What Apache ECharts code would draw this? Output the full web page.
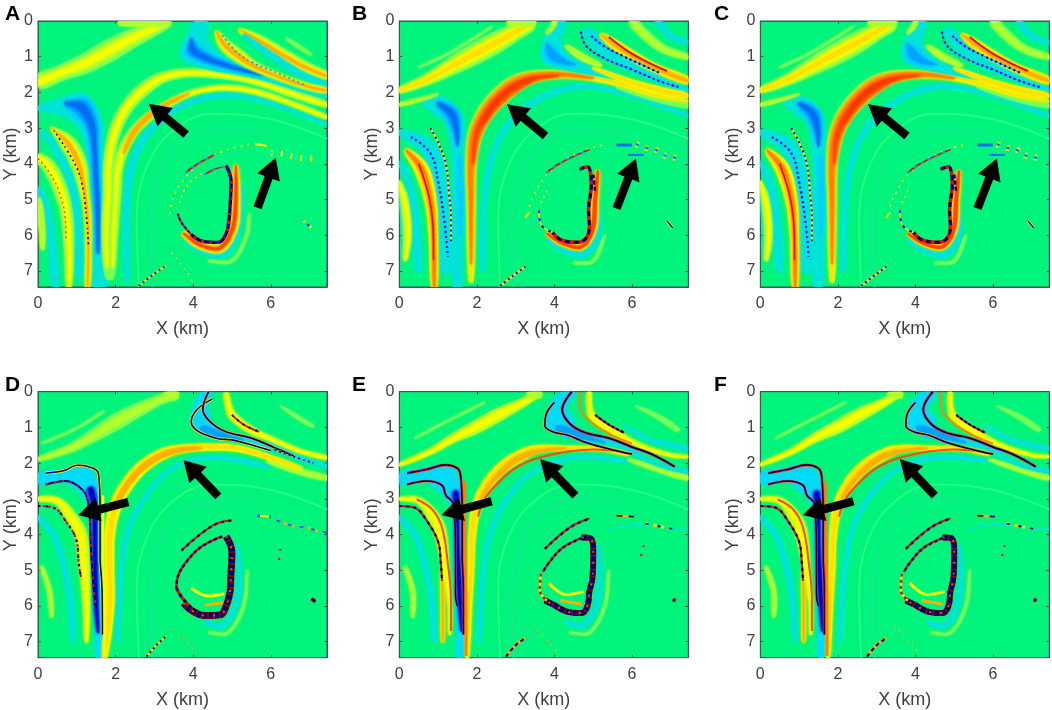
<!DOCTYPE html>
<html>
<head>
<meta charset="utf-8">
<style>html,body{margin:0;padding:0;background:#fff}#main{width:1052px;height:710px}</style>
<script src="https://cdn.jsdelivr.net/npm/echarts@6/dist/echarts.min.js"></script>
</head>
<body>
<div id="main"></div>
<script>
// tick labels
var xTicks = [0, 2, 4, 6];
var yTicks = [0, 1, 2, 3, 4, 5, 6, 7];
var letters = ['A', 'B', 'C', 'D', 'E', 'F'];

// ribbons are [x km, y km, width km], strokes are [x km, y km]
// ---- panel A
var aTop = [[0,1.72,.38],[.6,1.45,.42],[1.2,1.2,.52],[1.8,.85,.58],[2.4,.5,.5],[2.9,.25,.4],[3.3,.02,.3]];
var aTopEdge = [[2.1,.06,.14],[2.8,.06,.16],[3.4,.06,.16]];
var aBlueHalo = [[4.25,0,.3],[4.1,.4,.5],[4.05,.8,.85],[4.5,1.1,.55],[5,1.3,.35],[5.8,1.55,.2],[6.5,1.8,.15],[7.45,2.1,.1]];
var aBlueCore = [[3.95,.5,.08],[3.98,.8,.45],[4.3,1.02,.36],[4.8,1.22,.24],[5.3,1.38,.16],[5.8,1.52,.05]];
var aRightOne = [[4.6,.3,.08],[4.8,.65,.32],[5.2,1,.36],[5.6,1.28,.25],[6.3,1.6,.2],[7,1.85,.18],[7.45,1.95,.14]];
var aRightTwo = [[5.2,.25,.1],[5.7,.55,.3],[6.3,.95,.35],[6.9,1.3,.3],[7.45,1.55,.2]];
var aRightCyan = [[5.3,.4,.08],[6,.95,.16],[6.8,1.5,.16],[7.45,1.8,.12]];
var aRightDots = [[4.75,.4],[5.1,.85],[5.5,1.15],[6.1,1.42],[6.9,1.8]];
var aRightFaint = [[6.4,.5,.05],[6.7,.7,.1],[7.05,.95,.05]];
var aArchUp = [[1.78,6.9,.1],[1.75,6,.18],[1.8,5,.22],[1.82,4,.26],[1.98,3.1,.3],[2.3,2.4,.33],[2.8,1.85,.35],[3.3,1.55,.28],[4,1.45,.22],[5,1.55,.2],[5.8,1.75,.2],[6.6,2.05,.2],[7.45,2.35,.14]];
var aArchLow = [[1.92,6.9,.08],[1.95,6,.16],[2,5,.2],[2.08,4,.26],[2.4,3.2,.26],[2.9,2.65,.24],[3.4,2.3,.2],[4,2.0,.16],[4.8,1.87,.16],[5.6,1.98,.16],[6.5,2.3,.14],[7.45,2.7,.1]];
var aArchJoin = [[1.85,7.2,.2],[1.85,6,.4],[1.9,5,.45],[1.95,4.4,.4],[2,3.9,.1]];
var aArchCore = [[2.2,3.7,.05],[2.45,3.15,.12],[2.9,2.62,.13],[3.4,2.28,.1],[3.9,2.03,.04]];
var aArchHalo = [[2.3,7.3,.1],[2.28,5.5,.15],[2.38,4.2,.18],[2.72,3.3,.18],[3.3,2.65,.15],[4,2.25,.14],[5,2.08,.12],[6,2.3,.1],[7.45,2.9,.06]];
var aLeftHalo = [[0,2.45,.1],[.5,2.4,.4],[1,2.4,.8],[1.35,2.9,.62],[1.45,3.5,.45],[1.5,4.5,.5],[1.55,5.5,.5],[1.55,6.5,.5],[1.55,7.45,.4]];
var aLeftCore = [[.7,2.3,.12],[1.1,2.4,.62],[1.38,2.9,.42],[1.45,3.5,.26],[1.5,4.5,.22],[1.55,5.5,.22],[1.55,6.5,.08]];
var aStreakOne = [[.35,3,.06],[.75,3.4,.42],[1.05,4,.42],[1.2,4.8,.25],[1.28,5.5,.2],[1.3,6.5,.16],[1.28,7.45,.12]];
var aStreakDots = [[.4,3.05],[.9,3.9],[1.12,4.5],[1.25,5.5],[1.3,6.3]];
var aStreakCyan = [[.1,3.1,.1],[.5,3.6,.2],[.85,4.5,.2],[1,5.5,.2],[1.08,7.2,.18]];
var aStreakTwo = [[0,3.8,.22],[.3,4.1,.36],[.6,4.8,.36],[.75,5.5,.3],[.8,6.5,.24],[.8,7.45,.12]];
var aStreakTwoDots = [[0,3.85],[.3,4.25],[.55,4.8],[.7,5.5],[.72,6.1]];
var aOuterCyan = [[0,4.7,.16],[.25,5.4,.18],[.38,6.5,.18],[.45,7.45,.16]];
var aOuterFaint = [[0,5,.14],[.1,5.8,.16],[.12,6.4,.08]];
var aRingDark = [[4.85,4.05],[4.98,4.5],[4.95,5.2],[4.92,5.6],[4.85,5.95],[4.65,6.2],[4.25,6.17],[3.95,5.98]];
var aRingTail = [[3.6,5.4],[3.7,5.65],[3.95,5.98]];
var aRingGlow = [[5.1,4.05,.1],[5.1,5,.22],[5.02,5.8,.25],[4.7,6.35,.26],[4.2,6.28,.22],[3.75,5.95,.12]];
var aRingCyan = [[5.25,4.6,.08],[5.22,5.4,.14],[5.08,6.1,.16],[4.75,6.55,.16],[4.2,6.45,.12],[3.8,6.2,.05]];
var aRingFaint = [[5.45,5.4,.04],[5.38,6,.07],[5,6.72,.08],[4.4,6.72,.06]];
var aArcOne = [[3.8,4.25],[4.15,3.98],[4.55,3.75]];
var aArcTwo = [[4.3,4.3],[4.55,4.15],[4.8,4.08]];
var aArcFaint = [[3.4,5.4],[3.5,4.9],[3.72,4.5],[4.2,3.95],[4.9,3.6],[5.5,3.45]];
var aArcIn = [[3.65,5.1],[3.85,4.6],[4.25,4.25]];
var aFarArc = [[5.6,3.45],[5.9,3.5]];
var aSpecks = [[6,3.7],[6.3,3.72],[6.65,3.82],[6.95,3.85],[7.15,3.85]];
var aFootOne = [[2.6,7.42],[2.95,7.12],[3.3,6.85]];
var aFootTwo = [[3.45,6.5],[3.75,6.9],[4.05,7.4]];
var aDot = [[6.85,5.6],[7.05,5.8]];

// ---- panels B and C
var bTop = [[0,1.95,.14],[.7,1.65,.3],[1.3,1.3,.45],[1.9,.95,.56],[2.5,.6,.56],[3,.3,.45],[3.4,.05,.34]];
var bTopEdge = [[2.8,.05,.14],[3.2,.05,.2],[3.5,.05,.14]];
var bThin = [[0,2.35,.09],[.6,2.18,.09],[1,2.05,.04]];
var bFaint = [[.5,1.3,.04],[1.2,.95,.06],[1.9,.5,.06],[2.4,.15,.04]];
var bBlueHalo = [[4.15,0,.3],[3.95,.5,.42],[3.95,.9,.62],[4.3,1.15,.42],[5,1.4,.22],[5.6,1.55,.12]];
var bBlueCore = [[3.8,.65,.08],[3.95,.95,.45],[4.25,1.15,.22],[4.55,1.22,.03]];
var bLimeTop = [[4.02,0,.1],[3.95,.15,.12],[3.8,.35,.06]];
var bLimeRight = [[4.3,.7,.08],[4.7,1,.18],[5.2,1.25,.08]];
var bRightCyan = [[4.8,.25,.18],[5.4,.85,.4],[6.3,1.4,.3],[7.45,1.95,.1]];
var bRightDotsOne = [[4.68,.3],[4.82,.7],[5.3,1.05],[6,1.36],[6.7,1.68],[7.2,1.85]];
var bRightDotsTwo = [[4.95,.42],[5.3,.72],[5.8,1],[6.3,1.25],[6.7,1.45]];
var bRightWarm = [[5.2,.38,.08],[5.5,.62,.24],[6,.97,.26],[6.6,1.32,.22],[7.45,1.68,.18]];
var bRightRed = [[5.4,.45],[5.9,.85],[6.4,1.15],[6.9,1.4]];
var bArcOut = [[6,0,.2],[6.3,.35,.26],[6.8,.78,.22],[7.45,1.02,.14]];
var bArcCyan = [[6.65,0,.14],[7,.42,.14],[7.45,.62,.1]];
var bTail = [[5,1.32,.06],[6,1.72,.15],[6.8,1.97,.2],[7.45,2.1,.12]];
var bTailTwo = [[5.6,1.85,.06],[6.6,2.2,.1],[7.45,2.38,.12]];
var bArch = [[1.85,7.3,.1],[1.85,6.5,.2],[1.85,5,.25],[1.85,4,.3],[1.95,3.2,.38],[2.2,2.6,.44],[2.6,2.1,.5],[3,1.75,.46],[3.5,1.55,.33],[4.2,1.5,.22],[5,1.6,.16],[5.8,1.8,.15],[6.6,2.08,.12],[7.45,2.25,.05]];
var bArchMid = [[1.85,6.8,.04],[1.85,5,.13],[1.85,4,.2],[1.96,3.2,.3],[2.22,2.6,.36],[2.62,2.1,.4],[3,1.76,.38],[3.5,1.56,.25],[4.2,1.5,.14],[5,1.6,.05]];
var bArchCore = [[1.9,4,.05],[1.98,3.2,.2],[2.25,2.6,.28],[2.65,2.1,.32],[3.05,1.8,.3],[3.5,1.6,.16],[4.1,1.52,.05]];
var bArchHot = [[2.12,2.9,.06],[2.4,2.4,.14],[2.8,1.95,.16],[3.15,1.72,.12],[3.5,1.6,.04]];
var bArchHalo = [[2.15,7,.1],[2.2,5,.12],[2.4,3.8,.13],[2.8,2.92,.14],[3.4,2.32,.14],[4.2,1.92,.14],[5,1.85,.12],[6,2.1,.1],[7.45,2.65,.08]];
var bLeftHalo = [[.6,2.25,.1],[1,2.35,.52],[1.4,2.75,.46],[1.5,3.5,.35],[1.55,4.5,.32],[1.55,5.5,.32],[1.5,6.5,.26],[1.5,7.45,.2]];
var bLeftCore = [[1,2.3,.16],[1.35,2.6,.42],[1.48,3.1,.24],[1.5,3.5,.05]];
var bLeftStem = [[1.55,3.8,.1],[1.58,5,.12],[1.55,6,.04]];
var bSheet = [[0,3.1,.14],[.7,3.5,.42],[1.05,4.4,.45],[1.2,5.5,.42],[1.2,7,.28]];
var bDotsOne = [[.8,3],[1,3.4],[1.2,4],[1.28,4.8],[1.33,5.5],[1.33,6.2]];
var bDotsTwo = [[.3,3.25],[.8,3.7],[1,4.5],[1.15,5.5],[1.25,6.6]];
var bWarm = [[.18,3.62,.12],[.55,4.1,.36],[.8,5,.3],[.88,6,.22],[.9,7.45,.14]];
var bWarmLine = [[.5,4],[.78,5],[.88,6.1],[.88,6.7]];
var bWarmCyan = [[0,3.95,.1],[.25,4.5,.16],[.42,5.5,.18],[.5,7,.16]];
var bLens = [[0,4.5,.1],[.18,5.2,.36],[.22,6,.3],[.15,6.7,.12]];
var bRingDark = [[4.65,4.15],[4.85,4.08],[4.95,4.6],[4.88,5.3],[4.9,5.75],[4.8,6.1],[4.55,6.2],[4.15,6.12],[3.95,5.92]];
var bRingGlow = [[5.12,4.2,.1],[5.05,5,.18],[4.98,5.85,.2],[4.7,6.32,.18],[4.2,6.22,.16],[3.8,5.95,.08]];
var bRingCyan = [[5.1,5.2,.08],[5.12,6,.16],[4.75,6.55,.18],[4.2,6.42,.12],[3.8,6.15,.05]];
var bRingFaint = [[5.3,6,.05],[5,6.72,.08],[4.5,6.78,.06]];
var bRingSide = [[5,4.3],[5.05,4.8]];
var bArcOne = [[3.8,4.25],[4.15,3.98],[4.9,3.6]];
var bArcFaint = [[3.35,5.2],[3.5,4.8],[3.9,4.2],[4.6,3.7],[5.3,3.45]];
var bArcIn = [[3.65,5.1],[3.85,4.65]];
var bArcTail = [[3.6,5.3],[3.65,5.7],[3.95,5.92]];
var bFarBlue = [[5.6,3.47],[6,3.47]];
var bFarBlueTwo = [[5.9,3.75],[6.3,3.75]];
var bSpecks = [[6.1,3.45],[6.35,3.55],[6.6,3.6],[6.8,3.75],[7,3.8],[7.2,3.85]];
var bFootOne = [[2.6,7.42],[2.95,7.12],[3.25,6.88]];
var bBlob = [[3.28,5.42],[3.32,5.45]];
var bDot = [[6.9,5.6],[7.05,5.8]];

// ---- panel D
var dTop = [[0,1.9,.1],[.8,1.6,.22],[1.4,1.25,.32],[2,.85,.42],[2.6,.5,.36],[3.2,.2,.26],[3.55,.05,.3]];
var dTopEdge = [[3.3,.08,.14],[3.6,.08,.2]];
var dFaint = [[.1,1.45,.04],[1,1.02,.05],[1.7,.55,.05]];
var dBlueFill = [[4.38,0,.22],[4.2,.4,.36],[4.2,.8,.52],[4.5,1.12,.32],[5,1.26,.18],[5.6,1.45,.08],[6.2,1.65,.03]];
var dBlueDeep = [[4.2,1,.1],[4.45,1.14,.22],[4.9,1.26,.1],[5.3,1.35,.03]];
var dBlueLeft = [[4.5,.2],[4.1,.5],[3.95,.85],[4.05,1.05],[4.3,1.2],[4.65,1.32],[5,1.35],[5.6,1.52],[6,1.65]];
var dBlueRight = [[4.4,0],[4.25,.5],[4.4,.8],[4.8,1.1],[5.5,1.3],[6.1,1.57],[6.6,1.8]];
var dDotsRight = [[6.1,1.62],[6.6,1.82],[7.1,2]];
var dWarm = [[4.85,.05,.12],[4.9,.35,.16],[5,.65,.22],[5.5,1.08,.2],[6,1.32,.14],[6.8,1.68,.12],[7.45,1.85,.1]];
var dWarmLine = [[5,.65],[5.3,.92],[5.7,1.12]];
var dCyan = [[5.9,1.4,.06],[6.6,1.78,.12],[7.45,2.1,.1]];
var dTail = [[5.9,1.95,.06],[6.6,2.2,.16],[7.45,2.42,.14]];
var dCorner = [[6.25,.4,.03],[6.7,.72,.1],[7.1,.97,.06]];
var dArch = [[1.72,7.45,.12],[1.85,6,.22],[1.85,5,.22],[1.85,4,.25],[2,3.2,.3],[2.3,2.6,.32],[2.7,2.1,.32],[3.2,1.75,.3],[3.7,1.6,.22],[4.5,1.55,.18],[5.2,1.6,.16],[6,1.85,.13],[6.8,2.15,.06]];
var dArchCore = [[2,3.2,.08],[2.3,2.6,.12],[2.7,2.12,.14],[3.2,1.78,.14],[3.7,1.62,.12],[4.2,1.58,.05]];
var dArchHalo = [[2.05,7,.08],[2.15,5,.1],[2.35,3.8,.1],[2.8,2.9,.1],[3.5,2.12,.1],[4.5,1.85,.1],[6,2.1,.08]];
var dBlueLeftFill = [[0,2.45,.28],[.6,2.35,.36],[1.1,2.38,.68],[1.42,3,.38],[1.5,3.5,.24],[1.5,4.5,.24],[1.55,5.5,.24],[1.58,6.5,.18],[1.58,7.45,.16]];
var dBlueLeftCore = [[1.35,2.7,.2],[1.45,3.2,.17],[1.47,4.5,.14],[1.5,6,.13],[1.55,6.75,.05]];
var dEdgeTop = [[.2,2.28],[.7,2.2],[1,2.06],[1.3,2.1],[1.56,2.3],[1.6,3.3],[1.6,4.6],[1.65,5.5],[1.66,6.8]];
var dEdgeLow = [[.2,2.6],[.7,2.5],[1.15,2.75],[1.3,3.15],[1.37,4.5],[1.45,5.7],[1.5,6]];
var dEdgeWarm = [[1.68,2.9],[1.68,4.5],[1.72,6],[1.72,7.4]];
var dStreak = [[0,3,.1],[.5,3.06,.2],[.85,3.5,.3],[1.1,4,.32],[1.2,5,.26],[1.25,6,.18],[1.25,7,.08]];
var dStreakDots = [[0,3.2],[.4,3.25],[.7,3.6],[1,4.2],[1.05,4.8],[1.12,5.25]];
var dCyanLeft = [[0,3.5,.1],[.4,4,.14],[.7,5,.14],[.85,6,.14],[.9,7,.1]];
var dLens = [[.1,4.9,.08],[.3,5.6,.13],[.35,6.3,.08]];
var dRingDark = [[4.85,4.05],[5,4.5],[4.97,5.2],[4.95,5.6],[4.85,6],[4.7,6.25],[4.3,6.27],[3.95,6.12],[3.75,5.92]];
var dArcA = [[4.75,4.05],[4.2,4.35],[3.8,4.8],[3.6,5.2],[3.57,5.5]];
var dArcB = [[3.7,4.45],[4.5,3.75],[5,3.6]];
var dArcTail = [[3.57,5.5],[3.7,5.75],[3.95,6.05]];
var dInnerOne = [[3.95,5.5],[4.4,5.72],[4.8,5.65]];
var dInnerTwo = [[4.3,5.98],[4.8,5.9]];
var dRingCyan = [[5.15,4.3,.06],[5.2,5.2,.1],[5.1,6,.13],[4.75,6.55,.14],[4.3,6.45,.1]];
var dRingFaint = [[5.4,5,.04],[5.3,6,.07],[4.9,6.75,.07],[4.4,6.75,.05]];
var dFootOne = [[2.8,7.42],[3.05,7.1],[3.3,6.85]];
var dFootTwo = [[3.5,6.65],[3.8,6.95],[4.05,7.3]];
var dFarOne = [[5.65,3.47],[6,3.5]];
var dSpecks = [[6.15,3.6],[6.4,3.7],[6.65,3.78],[6.9,3.8],[7.2,3.9],[7.45,3.95]];
var dFarDots = [[6.25,4.4],[6.2,4.85]];
var dDot = [[7.05,5.8],[7.15,5.88]];

// ---- panels E and F
var eTop = [[0,2.05,.08],[.8,1.68,.16],[1.4,1.3,.24],[2,.98,.34],[2.6,.62,.34],[3.2,.3,.22],[3.6,.05,.1]];
var eTopEdge = [[3.3,.08,.12],[3.65,.08,.18]];
var eFaint = [[.4,1.3,.04],[1.2,.85,.05],[2.2,.3,.04]];
var eBlueFill = [[4.45,0,.22],[4.1,.4,.45],[4.15,.85,.72],[4.5,1.15,.36],[5,1.3,.2],[5.6,1.5,.08],[6.2,1.7,.03]];
var eBlueDeep = [[4.05,1,.1],[4.4,1.15,.24],[4.9,1.3,.1],[5.3,1.42,.03]];
var eBlueLeft = [[4,.3],[3.78,.65],[3.75,.95],[3.95,1.12],[4.35,1.22],[4.8,1.42],[5.4,1.6],[6,1.75]];
var eBlueRight = [[4.45,0],[4.2,.5],[4.4,.9],[4.8,1.15],[5.4,1.3],[6,1.55],[6.5,1.75],[7.1,2.1]];
var eWarm = [[4.9,0,.1],[4.9,.4,.14],[5,.72,.2],[5.5,1.1,.2],[6.2,1.5,.12],[7,1.78,.1],[7.45,1.82,.06]];
var eWarmLine = [[4.65,0],[4.65,.4],[4.95,.85],[5.45,1.2],[6,1.45]];
var eWarmDark = [[5.05,.65],[5.4,.92],[5.8,1.15]];
var eCyan = [[5.8,.95,.04],[6.5,1.35,.1],[7.45,1.6,.1]];
var eCyanLow = [[6,1.7,.06],[6.7,2.05,.1],[7.45,2.25,.08]];
var eTail = [[5.9,1.9,.05],[6.7,2.18,.16],[7.45,2.42,.14]];
var eCorner = [[6.1,.4,.03],[6.7,.72,.12],[7.2,1.08,.1]];
var eArch = [[1.75,7.45,.08],[1.8,6,.14],[1.85,5,.15],[1.88,4,.18],[2,3.2,.24],[2.3,2.55,.28],[2.7,2.08,.3],[3.2,1.75,.3],[3.6,1.6,.2],[4.3,1.58,.12],[5.2,1.6,.1],[5.9,1.75,.08]];
var eArchCore = [[2.1,3,.05],[2.4,2.52,.1],[2.8,2.08,.14],[3.2,1.8,.14],[3.7,1.65,.08],[4.3,1.58,.04]];
var eArchRed = [[2.03,3.5],[2.2,3],[2.55,2.55],[2.95,2.17],[3.4,1.92],[3.85,1.78],[4.3,1.68],[5,1.62],[5.8,1.7]];
var eArchHalo = [[2.05,7,.08],[2.18,5,.1],[2.4,3.8,.1],[2.85,2.9,.12],[3.5,2.2,.1],[4.5,1.85,.1],[6,1.95,.06]];
var eBlueLeftFill = [[0,2.45,.28],[.6,2.33,.38],[1.1,2.38,.7],[1.45,3,.42],[1.52,3.5,.25],[1.52,4.5,.24],[1.58,5.5,.26],[1.58,6.5,.18],[1.56,7.45,.14]];
var eBlueLeftCore = [[1.45,2.8,.18],[1.48,3.3,.14],[1.5,4.5,.14],[1.55,5.5,.16],[1.6,6.7,.05]];
var eEdgeTop = [[.2,2.28],[.7,2.18],[1.2,2.05],[1.5,2.15],[1.58,2.35],[1.62,3.3],[1.62,4.6],[1.65,5.5],[1.65,6.8]];
var eEdgeLow = [[.2,2.6],[.7,2.5],[1.1,2.62],[1.2,2.9],[1.4,3.15],[1.45,4.5],[1.45,5.7],[1.5,6]];
var eEdgeWarm = [[1.68,2.5],[1.7,4.5],[1.72,6],[1.72,7.4]];
var eStreak = [[0,3,.08],[.5,3.05,.18],[.85,3.45,.3],[1.05,3.9,.32],[1.2,5,.18],[1.3,6,.1],[1.3,6.8,.06]];
var eStreakRed = [[.45,3.02],[.85,3.3],[1.1,3.8],[1.25,4.8],[1.33,5.8],[1.33,6.7]];
var eStreakDots = [[0,3.2],[.4,3.25],[.7,3.6],[1,4.2],[1.07,4.8],[1.1,5.3]];
var eStreakWarm = [[1.1,5,.06],[1.12,6,.1],[1.12,7,.08]];
var eCyanLeft = [[0,3.5,.1],[.4,4,.14],[.7,5,.14],[.85,6,.14],[.9,7,.1]];
var eLens = [[.15,4.9,.08],[.35,5.6,.13],[.35,6.3,.08]];
var eRingDark = [[4.7,4.08],[4.92,4.1],[5,4.5],[4.98,5.2],[4.9,5.6],[4.85,6],[4.7,6.2],[4.3,6.15],[3.95,5.95],[3.75,5.85]];
var eArcA = [[4.7,4.1],[4.2,4.38],[3.85,4.8],[3.7,5.05]];
var eArcB = [[3.75,4.4],[4.4,3.8],[4.9,3.55]];
var eArcTail = [[3.65,5.1],[3.62,5.55],[3.8,5.85]];
var eInnerOne = [[3.85,5.35],[4.3,5.68],[4.75,5.6]];
var eInnerTwo = [[4.15,5.85],[4.7,5.95]];
var eRingCyan = [[5.15,4.3,.05],[5.18,5.2,.1],[5.08,6,.13],[4.75,6.55,.14],[4.3,6.45,.1]];
var eRingFaint = [[5.4,5,.04],[5.3,6,.07],[4.9,6.75,.07],[4.4,6.75,.05]];
var eFootOne = [[2.75,7.42],[3,7.1],[3.25,6.9]];
var eFootTwo = [[3.45,6.55],[3.8,6.95],[4.1,7.35]];
var eFarOne = [[5.6,3.47],[6.05,3.5]];
var eFarLine = [[5.4,3.85],[6.2,3.72],[7,3.82],[7.45,3.85]];
var eSpecks = [[6.35,3.7],[6.6,3.75],[6.85,3.8],[7.1,3.85]];
var eFarDots = [[6.3,4.3],[6.2,4.75]];
var eDot = [[7.05,5.82],[7.12,5.85]];

// faint rings in the field, same in every panel
var fieldOne = [[2.6,7.45],[2.55,5.6],[2.8,4.1],[3.5,3.05],[4.5,2.6],[6,2.75],[7.45,3.3]];
var fieldTwo = [[2.95,7.45],[2.9,5.7],[3.1,4.4],[3.7,3.4],[4.6,3.05],[5.8,3.05]];

// arrows: [tail x, tail y, tip x, tip y] in km
var arrowsA = [[3.82,3.18,2.86,2.32],[5.66,5.23,6.13,3.83]];
var arrowsB = [[3.77,3.22,2.78,2.33],[5.6,5.25,6.1,3.85]];
var arrowsC = [[3.78,3.22,2.78,2.33],[5.6,5.25,6.1,3.85]];
var arrowsD = [[4.65,2.93,3.75,1.91],[2.33,3.09,1.04,3.45]];
var arrowsE = [[4.54,2.91,3.63,1.89],[2.38,3.07,1.09,3.45]];
var arrowsF = [[4.5,2.91,3.6,1.89],[2.4,3.07,1.1,3.45]];

// jet-like colours
var FIELD = '#00f47c', LIME = '#78ff58', GREENY = '#b0ff30', YEL = '#f4ff00', YEL2 = '#ffe000', ORA = '#ffb000', ORA2 = '#ff8000',
	RED = '#ff4800', RED2 = '#e01000', DRED = '#8a0000', CYAN = '#00e4d8', CYAN2 = '#00d0ff', ICE = '#00dcf8', SKY = '#00a4ff', BLUE = '#0070f0', DBLUE = '#0000c8', NAVY = '#000070';

// layer helpers: R = nested ribbon, L = plain stroke, S = solid + dashed stroke, P = dots only
function R(pts) { return { r: pts, cs: [].slice.call(arguments, 1) }; }
function L(pts, c, w) { return { l: pts, c: c, w: w }; }
function S(pts, c1, c2, w) { return { l: pts, c: c1, c2: c2, w: w }; }
function P(pts, c, w, on, off) { return { l: pts, c: c, w: w, dash: [on || 2, off || 3] }; }

var layersA = [
	L(fieldOne, '#22ff80', 2), L(fieldTwo, '#14e890', 2),
	R(aOuterCyan, CYAN), R(aOuterFaint, GREENY), R(aStreakCyan, CYAN), R(aStreakTwo, LIME, GREENY, YEL), P(aStreakTwoDots, RED, 1.4),
	R(aLeftHalo, CYAN), R(aLeftCore, CYAN2, SKY, BLUE),
	R(aStreakOne, LIME, GREENY, YEL, ORA), P(aStreakDots, DBLUE, 1.6), P(aStreakDots, YEL, 1.2, 1, 6),
	R(aArchHalo, CYAN), R(aArchJoin, LIME), R(aArchLow, LIME, GREENY, YEL), R(aArchCore, ORA), R(aArchUp, LIME, GREENY, YEL),
	R(aTop, LIME, GREENY, YEL), R(aTopEdge, GREENY),
	R(aBlueHalo, CYAN), R(aBlueCore, CYAN2, SKY, BLUE),
	R(aRightFaint, LIME), R(aRightTwo, LIME, GREENY, YEL, ORA), R(aRightCyan, CYAN), R(aRightOne, LIME, YEL, ORA), P(aRightDots, SKY, 1.6),
	R(aRingFaint, LIME), R(aRingCyan, CYAN), R(aRingGlow, YEL, YEL2, RED),
	L(aRingDark, NAVY, 3.4), P(aRingDark, RED2, 3.4, 3, 5), P(aRingDark, DBLUE, 1.5, 4, 6), L(aRingTail, RED2, 2), P(aRingTail, DBLUE, 2),
	P(aArcFaint, YEL, 1.6, 2, 5), P(aArcIn, YEL, 1.6, 2, 4),
	L(aArcOne, RED2, 2), P(aArcOne, SKY, 2, 3, 5), L(aArcTwo, RED2, 1.6), P(aArcTwo, SKY, 2, 3, 6),
	L(aFarArc, YEL, 2.2), P(aSpecks, YEL, 6, 2, 8), P(aSpecks, CYAN, 3, 2, 10),
	L(aFootOne, YEL, 2), P(aFootOne, DBLUE, 2), P(aFootTwo, YEL, 1.4, 1.5, 5), P(aDot, DBLUE, 1.8), P(aDot, YEL, 3, 2, 6)
];

var layersB = [
	L(fieldOne, '#22ff80', 2), L(fieldTwo, '#14e890', 2),
	R(bLens, CYAN, LIME, GREENY, YEL), R(bWarmCyan, CYAN), R(bSheet, CYAN), R(bWarm, YEL, YEL2, ORA2), L(bWarmLine, RED2, 1.6),
	R(bLeftHalo, CYAN), R(bLeftCore, CYAN2, SKY, BLUE), R(bLeftStem, CYAN2),
	S(bDotsOne, YEL, DBLUE, 2), L(bDotsTwo, CYAN2, 2), P(bDotsTwo, DBLUE, 2.2),
	R(bArchHalo, CYAN), R(bTailTwo, LIME), R(bThin, GREENY), R(bFaint, LIME),
	R(bArch, LIME, YEL, YEL2), R(bArchMid, ORA, ORA2), R(bArchCore, ORA2, RED), R(bArchHot, RED, '#f83800'),
	R(bTop, LIME, GREENY, YEL, YEL2), R(bTopEdge, GREENY),
	R(bBlueHalo, CYAN), R(bBlueCore, CYAN2, SKY), R(bLimeTop, GREENY), R(bLimeRight, GREENY),
	R(bArcCyan, CYAN), R(bArcOut, LIME, GREENY), R(bRightCyan, CYAN), R(bTail, YEL, YEL2),
	R(bRightWarm, YEL, YEL2, ORA), L(bRightRed, RED2, 2), L(bRightDotsOne, SKY, 1.2), P(bRightDotsOne, DBLUE, 2.2), L(bRightDotsTwo, SKY, 1.2), P(bRightDotsTwo, DBLUE, 2.2),
	R(bRingFaint, LIME), R(bRingCyan, CYAN), R(bRingGlow, YEL, RED),
	L(bRingDark, RED2, 3.6), P(bRingDark, NAVY, 3, 5, 4), P(bRingSide, NAVY, 2.5, 4, 2),
	P(bArcFaint, YEL, 1.6, 2, 5), P(bArcIn, YEL, 1.6, 2, 4), L(bArcOne, RED2, 1.8), P(bArcOne, SKY, 2, 3, 5),
	L(bArcTail, YEL, 1.6), P(bArcTail, DBLUE, 2, 3, 5),
	L(bFarBlue, BLUE, 3), L(bFarBlueTwo, BLUE, 2), P(bSpecks, YEL, 6, 3, 7), P(bSpecks, BLUE, 2.5, 3, 7),
	L(bFootOne, YEL, 2.4), P(bFootOne, DBLUE, 2.2), P(bBlob, YEL, 7, 5, 1), L(bDot, YEL, 3), L(bDot, DBLUE, 1.5)
];

var layersD = [
	L(fieldOne, '#22ff80', 2), L(fieldTwo, '#14e890', 2),
	R(dLens, LIME, GREENY), R(dCyanLeft, CYAN), R(dStreak, GREENY, YEL), P(dStreakDots, RED2, 2, 3, 2), P(dStreakDots, NAVY, 2, 2, 6),
	R(dBlueLeftFill, ICE), R(dBlueLeftCore, BLUE, DBLUE),
	L(dEdgeWarm, YEL, 2.4), L(dEdgeTop, YEL, 3), L(dEdgeTop, NAVY, 1.6), L(dEdgeLow, NAVY, 2), P(dEdgeLow, RED2, 2, 3, 5),
	R(dArchHalo, CYAN), R(dTail, LIME, GREENY), R(dArch, YEL, YEL2), R(dArchCore, ORA),
	R(dFaint, LIME), R(dTop, LIME, GREENY), R(dTopEdge, GREENY),
	R(dCorner, LIME), R(dCyan, CYAN), R(dWarm, GREENY, YEL), L(dWarmLine, RED2, 2), P(dWarmLine, NAVY, 2, 2, 5),
	R(dBlueFill, ICE), R(dBlueDeep, SKY),
	L(dBlueLeft, YEL, 3), L(dBlueLeft, NAVY, 1.6), L(dBlueRight, ORA, 3), L(dBlueRight, NAVY, 1.8), P(dDotsRight, YEL, 2.4), P(dDotsRight, DBLUE, 2, 2, 3),
	R(dRingFaint, LIME), R(dRingCyan, CYAN),
	L(dInnerOne, YEL, 3), L(dInnerTwo, ORA, 3),
	L(dRingDark, DRED, 7), P(dRingDark, NAVY, 6, 4, 2), P(dRingDark, RED, 2, 2, 9),
	L(dArcA, RED2, 2.4), P(dArcA, NAVY, 2.4, 3, 3), L(dArcB, RED2, 2), P(dArcB, NAVY, 2.2, 3, 4), L(dArcTail, RED2, 3), P(dArcTail, NAVY, 3, 3, 4),
	L(dFootOne, YEL, 2.2), P(dFootOne, NAVY, 2.2), P(dFootTwo, ORA, 1.5, 1.5, 5),
	L(dFarOne, YEL, 2), P(dFarOne, BLUE, 3, 3, 9), P(dSpecks, ORA, 3, 3, 5), P(dSpecks, BLUE, 2, 4, 8), P(dFarDots, RED2, 2, 2, 7),
	L(dDot, RED2, 4), L(dDot, NAVY, 2)
];

var layersE = [
	L(fieldOne, '#22ff80', 2), L(fieldTwo, '#14e890', 2),
	R(eLens, LIME, GREENY), R(eCyanLeft, CYAN), R(eStreakWarm, YEL, ORA), R(eStreak, GREENY, YEL), L(eStreakRed, RED, 2), L(eStreakDots, RED2, 2), P(eStreakDots, NAVY, 2, 3, 4),
	R(eBlueLeftFill, ICE), R(eBlueLeftCore, BLUE, DBLUE),
	L(eEdgeWarm, ORA2, 3), L(eEdgeTop, RED, 3), L(eEdgeTop, NAVY, 1.6), L(eEdgeLow, RED, 2.6), L(eEdgeLow, NAVY, 1.6),
	R(eArchHalo, CYAN), R(eTail, LIME, GREENY), R(eArch, YEL, YEL2), R(eArchCore, ORA), L(eArchRed, RED, 2),
	R(eFaint, LIME), R(eTop, GREENY, YEL), R(eTopEdge, GREENY),
	R(eCorner, LIME), R(eCyan, CYAN), R(eCyanLow, CYAN), R(eWarm, GREENY, YEL), L(eWarmLine, ORA2, 2), L(eWarmDark, RED2, 2), P(eWarmDark, NAVY, 2, 3, 2),
	R(eBlueFill, ICE), R(eBlueDeep, SKY),
	L(eBlueLeft, ORA, 3), L(eBlueLeft, NAVY, 1.7), L(eBlueRight, RED, 3), L(eBlueRight, NAVY, 1.8),
	R(eRingFaint, LIME), R(eRingCyan, CYAN),
	L(eInnerOne, YEL, 3), L(eInnerTwo, ORA, 3),
	L(eRingDark, DRED, 6), P(eRingDark, NAVY, 5.5, 5, 2), P(eRingDark, RED, 2, 2, 9),
	L(eArcA, RED2, 2.2), P(eArcA, NAVY, 2.4, 3, 3), L(eArcB, RED2, 2), P(eArcB, NAVY, 2.4, 3, 4), L(eArcTail, YEL, 2.2), P(eArcTail, RED2, 2.4, 3, 3),
	L(eFootOne, ORA, 3), P(eFootOne, NAVY, 2.2, 4, 3), P(eFootTwo, ORA, 1.5, 1.5, 5),
	L(eFarOne, ORA, 2.2), P(eFarOne, NAVY, 1.6, 6, 6), L(eFarLine, CYAN, 1.4), P(eSpecks, YEL, 3, 3, 5), P(eSpecks, NAVY, 2, 3, 9), P(eFarDots, RED2, 2, 2, 7),
	L(eDot, RED2, 4), L(eDot, NAVY, 2)
];

var panelLayers = [layersA, layersB, layersB, layersD, layersE, layersE];
var panelArrows = [arrowsA, arrowsB, arrowsC, arrowsD, arrowsE, arrowsF];

var gridLeft = [38, 399.3, 760.3], gridTop = [21, 391.7], gridW = 289, gridH = 266;
var letterLeft = [5, 352, 714], letterTop = [4, 375];

var option = { animation: false, backgroundColor: '#fff', title: [], grid: [], xAxis: [], yAxis: [], series: [] };

function axisCommon(ticks) {
	return {
		min: 0, max: 7.45, type: 'value',
		splitLine: { show: false },
		axisLine: { onZero: false, lineStyle: { color: '#505050', width: 1 } },
		axisTick: { inside: true, length: 3, lineStyle: { color: '#505050' }, customValues: ticks },
		axisLabel: { color: '#404040', fontFamily: 'Liberation Sans', fontSize: 16, customValues: ticks },
		nameTextStyle: { color: '#404040', fontFamily: 'Liberation Sans', fontSize: 18 },
		nameLocation: 'middle'
	};
}

function ribbonItem(pts, f, color) {
	return function(params, api) {
		var up = [], down = [];
		for (var i = 0; i < pts.length; i++) {
			var a = pts[Math.max(i - 1, 0)], b = pts[Math.min(i + 1, pts.length - 1)];
			var dx = b[0] - a[0], dy = b[1] - a[1], d = Math.sqrt(dx * dx + dy * dy) || 1;
			var hw = pts[i][2] * f / 2;
			up.push(api.coord([pts[i][0] - dy / d * hw, pts[i][1] + dx / d * hw]));
			down.unshift(api.coord([pts[i][0] + dy / d * hw, pts[i][1] - dx / d * hw]));
		}
		var cs = params.coordSys;
		return {
			type: 'polygon',
			shape: { points: up.concat(down), smooth: 0.35 },
			style: { fill: color, stroke: color, lineWidth: 0.4, shadowBlur: 3, shadowColor: color },
			clipPath: { type: 'rect', shape: { x: cs.x, y: cs.y, width: cs.width, height: cs.height } }
		};
	};
}

function arrowItem(a) {
	return function(params, api) {
		var t = api.coord([a[0], a[1]]), h = api.coord([a[2], a[3]]);
		var dx = h[0] - t[0], dy = h[1] - t[1], d = Math.sqrt(dx * dx + dy * dy);
		var ux = dx / d, uy = dy / d, nx = -uy, ny = ux;
		var hl = 21, hw = 12, sw = 4.2;
		var bx = h[0] - ux * hl, by = h[1] - uy * hl;
		return {
			type: 'polygon',
			shape: { points: [
				[t[0] + nx * sw, t[1] + ny * sw], [bx + nx * sw, by + ny * sw], [bx + nx * hw, by + ny * hw],
				h, [bx - nx * hw, by - ny * hw], [bx - nx * sw, by - ny * sw], [t[0] - nx * sw, t[1] - ny * sw]
			] },
			style: { fill: '#000' }
		};
	};
}

function addLayers(p, layers) {
	layers.forEach(function(l) {
		if (l.r) {
			// nested colours: widest first
			l.cs.forEach(function(c, k) {
				option.series.push({
					type: 'custom', coordinateSystem: 'cartesian2d', xAxisIndex: p, yAxisIndex: p,
					data: [[0, 0]], z: 2, silent: true,
					renderItem: ribbonItem(l.r, 1 - k / l.cs.length, c)
				});
			});
		} else {
			option.series.push(lineSeries(p, l.l, l.c, l.w, l.dash));
			if (l.c2) option.series.push(lineSeries(p, l.l, l.c2, l.w, [2, 3]));
		}
	});
}

function lineSeries(p, pts, c, w, dash) {
	return {
		type: 'line', xAxisIndex: p, yAxisIndex: p, data: pts, smooth: 0.4, showSymbol: false, symbol: 'none',
		z: 2, silent: true, clip: true,
		lineStyle: { color: c, width: w, type: dash || 'solid', cap: 'butt' }
	};
}

for (var p = 0; p < 6; p++) {
	var col = p % 3, row = Math.floor(p / 3);
	option.title.push({
		text: letters[p], left: letterLeft[col], top: letterTop[row], padding: 0,
		textStyle: { color: '#000', fontFamily: 'Liberation Sans', fontWeight: 'bold', fontSize: 21 }
	});
	option.grid.push({
		left: gridLeft[col], top: gridTop[row], width: gridW, height: gridH, outerBoundsMode: 'none',
		show: true, backgroundColor: FIELD, borderColor: '#505050', borderWidth: 1
	});
	var xa = axisCommon(xTicks);
	xa.gridIndex = p; xa.position = 'bottom';
	xa.name = 'X (km)'; xa.nameGap = 33; xa.axisLabel.margin = 9;
	var ya = axisCommon(yTicks);
	ya.gridIndex = p; ya.position = 'left'; ya.inverse = true;
	ya.name = 'Y (km)'; ya.nameGap = 16; ya.axisLabel.margin = 5; ya.nameTextStyle.verticalAlign = 'bottom';
	option.xAxis.push(xa);
	option.yAxis.push(ya);
	addLayers(p, panelLayers[p]);
	panelArrows[p].forEach(function(a) {
		option.series.push({
			type: 'custom', coordinateSystem: 'cartesian2d', xAxisIndex: p, yAxisIndex: p,
			data: [[0, 0]], z: 5, silent: true, renderItem: arrowItem(a)
		});
	});
}
// box ticks on the top and right sides
for (var q = 0; q < 6; q++) {
	var xt = axisCommon(xTicks);
	xt.gridIndex = q; xt.position = 'top'; xt.axisLabel.show = false; xt.nameTextStyle = undefined;
	var yr = axisCommon(yTicks);
	yr.gridIndex = q; yr.position = 'right'; yr.inverse = true; yr.axisLabel.show = false; yr.nameTextStyle = undefined;
	option.xAxis.push(xt);
	option.yAxis.push(yr);
}

var chart = echarts.init(document.getElementById('main'), null, { renderer: 'canvas' });
chart.setOption(option);
</script>
</body>
</html>
